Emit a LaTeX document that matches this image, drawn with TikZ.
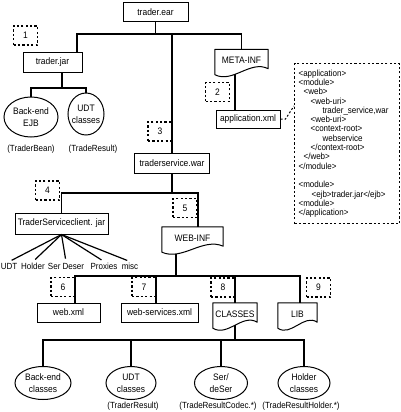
\documentclass[tikz,border=0pt]{standalone}
\usepackage{fontspec}
\setmainfont{Liberation Sans}[FakeStretch=0.9]
\usetikzlibrary{shapes.geometric,calc}

\tikzset{
  box/.style={draw, line width=1pt, inner sep=1pt, minimum height=19pt},
  numbox/.style={draw, line width=1.2pt, dash pattern=on 2.2pt off 2.2pt, minimum width=24pt, minimum height=19pt, inner sep=0pt},
  leaf/.style={draw, ellipse, line width=1pt, inner sep=-2pt, align=center, font=\fontsize{9.4}{12}\selectfont},
  folder/.style={inner sep=1pt, minimum height=22pt},
  xmlbox/.style={draw, line width=1.2pt, dash pattern=on 2.2pt off 2.2pt, anchor=north west, minimum width=105pt, minimum height=160pt, text width=97pt, inner xsep=4pt, align=left, font=\fontsize{8.9}{9.3}\selectfont},
  tree/.style={line width=1.2pt},
  hint/.style={inner sep=1pt, font=\fontsize{8.9}{10}\selectfont},
}

% folder outline with a wavy lower edge
\newcommand{\folderframe}[1]{%
  \draw[line width=1pt, line join=round]
    ([yshift=-3pt]#1.south west) -- (#1.north west) -- (#1.north east) -- ([yshift=3pt]#1.south east)
    .. controls ($(#1.south west)!.667!(#1.south east)+(0pt,12pt)$)
    and ($(#1.south west)!.333!(#1.south east)+(0pt,-12pt)$) .. ([yshift=-3pt]#1.south west) -- cycle;}

\begin{document}
\begin{tikzpicture}[x=1pt, y=-1pt, every node/.style={font=\fontsize{9.4}{11}\selectfont}]
  \useasboundingbox (0,0) rectangle (400,412);

  % archive and its parts
  \node[box, minimum width=65pt] (ear) at (155.5,12) {trader.ear};
  \node[box, minimum width=59pt] (jar) at (52.5,62.5) {trader.jar};
  \node[folder, minimum width=53pt] (metainf) at (241.5,60.5) {META-INF};
  \node[box, minimum width=64pt, minimum height=18pt] (appxml) at (248,119) {application.xml};
  \node[box, minimum width=75pt, minimum height=20pt] (war) at (172,163) {traderservice.war};
  \node[box, minimum width=93pt, minimum height=21pt] (client) at (61.5,223.5) {TraderServiceclient. jar};
  \node[folder, minimum width=61pt] (webinf) at (192.5,238) {WEB-INF};
  \node[box, minimum width=63pt] (webxml) at (68.5,312.5) {web.xml};
  \node[box, minimum width=77pt] (wsxml) at (159.5,312.5) {web-services.xml};
  \node[folder, minimum width=44pt] (classes) at (235,314) {CLASSES};
  \node[folder, minimum width=39pt] (lib) at (297.5,314) {LIB};
  \folderframe{metainf}
  \folderframe{webinf}
  \folderframe{classes}
  \folderframe{lib}

  % step numbers
  \node[numbox] (n1) at (25.5,35.5) {1};
  \node[numbox] (n2) at (217.5,92) {2};
  \node[numbox] (n3) at (160,131.5) {3};
  \node[numbox] (n4) at (47.5,190.5) {4};
  \node[numbox] (n5) at (185,208) {5};
  \node[numbox] (n6) at (63,287) {6};
  \node[numbox] (n7) at (144,287) {7};
  \node[numbox] (n8) at (223,287.5) {8};
  \node[numbox] (n9) at (318.5,287.5) {9};

  % classes
  \node[leaf, minimum width=54pt, minimum height=40pt] (ejb) at (31,117) {Back-end\\EJB};
  \node[leaf, minimum width=36pt, minimum height=42pt] (udt1) at (86,114) {UDT\\classes};
  \node[hint] (beanlbl) at (31,149) {(TraderBean)};
  \node[hint] (reslbl) at (93,149) {(TradeResult)};
  \node[leaf, minimum width=56pt, minimum height=33pt] (bec) at (43,383) {Back-end\\classes};
  \node[leaf, minimum width=50pt, minimum height=33pt] (udt2) at (131,383) {UDT\\classes};
  \node[leaf, minimum width=53pt, minimum height=33pt] (serdes) at (221,383) {Ser/\\deSer};
  \node[leaf, minimum width=52pt, minimum height=33pt] (holder) at (304,383) {Holder\\classes};
  \node[hint] (udtlbl) at (133,406) {(TraderResult)};
  \node[hint] (codeclbl) at (218,406) {(TradeResultCodec.*)};
  \node[hint] (holderlbl) at (301,406) {(TradeResultHolder.*)};

  % client jar contents
  \node[hint] (fudt) at (9,266) {UDT};
  \node[hint] (fholder) at (33,266) {Holder};
  \node[hint] (fser) at (66,266) {Ser Deser};
  \node[hint] (fprox) at (104,266) {Proxies};
  \node[hint] (fmisc) at (130,266) {misc};
  \foreach \f in {fudt,fholder,fser,fprox,fmisc}
    \draw[tree, shorten >=3pt] (client.south) -- (\f.north);

  % deployment descriptor
  \node[xmlbox] (xml) at (294,63) {<application>\\
    <module>\\
    \hspace*{5pt}<web>\\
    \hspace*{12pt}<web-uri>\\
    \hspace*{24pt}trader\_service,war\\
    \hspace*{12pt}<web-uri>\\
    \hspace*{12pt}<context-root>\\
    \hspace*{24pt}webservice\\
    \hspace*{12pt}</context-root>\\
    \hspace*{5pt}</web>\\
    </module>\\
    \mbox{}\\
    <module>\\
    \hspace*{13pt}<ejb>trader.jar</ejb>\\
    <module>\\
    </application>};
  \coordinate (xmlin) at (294,106);
  \draw[line width=1pt, dash pattern=on 2pt off 2pt] (appxml.east) -- ++(5pt,0pt) -- (xmlin);

  % tree lines
  \coordinate (busear) at (155.5,34);
  \draw[tree] (ear) -- (busear);
  \draw[tree] (jar.north -| 77,0) |- (busear) -| (metainf);
  \draw[tree] (busear -| war) -- (war);

  \coordinate (busjar) at (62,88);
  \draw[tree] (jar.south -| busjar) -- (busjar);
  \draw[tree] (ejb) |- (busjar) -| (udt1);

  \coordinate (metaout) at ($(metainf.south west)!.38!(metainf.south east)+(0pt,-2.6pt)$);
  \draw[tree] (metaout) -- (appxml.north -| metaout);

  \coordinate (buswar) at (172,193);
  \draw[tree] (war) -- (buswar);
  \draw[tree] (client) |- (buswar) -| (webinf.north -| 198,0);

  \coordinate (webout) at ($(webinf.south west)!.23!(webinf.south east)+(0pt,-4.8pt)$);
  \coordinate (busweb) at (webout |- 0,276);
  \draw[tree] (webout) -- (busweb);
  \draw[tree] (webxml.north -| 75,0) |- (busweb) -| (lib.north -| 300,0);
  \draw[tree] (busweb -| 156,0) -- (wsxml.north -| 156,0);
  \draw[tree] (busweb -| classes) -- (classes);

  \coordinate (buscls) at (235,340);
  \draw[tree] (classes.south) -- (buscls);
  \draw[tree] (bec) |- (buscls) -| (holder);
  \draw[tree] (buscls -| udt2) -- (udt2);
  \draw[tree] (buscls -| serdes) -- (serdes);
\end{tikzpicture}
\end{document}
